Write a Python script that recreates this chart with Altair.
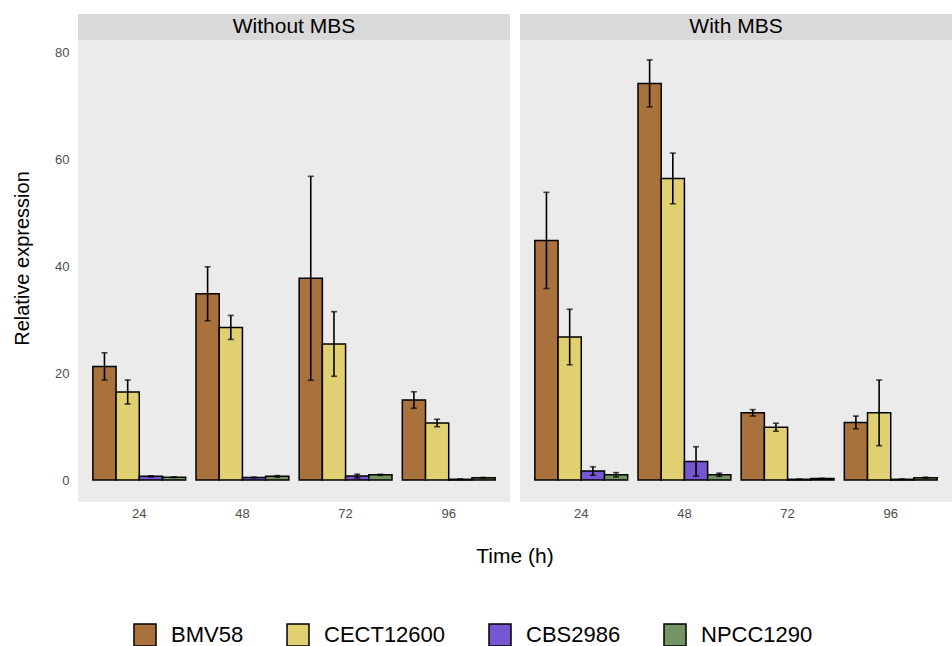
import altair as alt
import pandas as pd

times = ["24", "48", "72", "96"]
strains = ["BMV58", "CECT12600", "CBS2986", "NPCC1290"]
panels = ["Without MBS", "With MBS"]
colors = ["#A9713C", "#E1D071", "#7657D1", "#749463"]

without_mean = {
    "BMV58": [21.3, 34.9, 37.8, 15.0],
    "CECT12600": [16.5, 28.6, 25.5, 10.7],
    "CBS2986": [0.7, 0.5, 0.75, 0.15],
    "NPCC1290": [0.55, 0.7, 1.0, 0.45],
}
without_err = {
    "BMV58": [2.55, 5.05, 19.1, 1.55],
    "CECT12600": [2.25, 2.25, 6.05, 0.7],
    "CBS2986": [0.1, 0.05, 0.35, 0.05],
    "NPCC1290": [0.05, 0.15, 0.1, 0.05],
}
with_mean = {
    "BMV58": [44.9, 74.3, 12.6, 10.8],
    "CECT12600": [26.8, 56.5, 9.9, 12.6],
    "CBS2986": [1.7, 3.5, 0.15, 0.15],
    "NPCC1290": [1.0, 1.0, 0.3, 0.45],
}
with_err = {
    "BMV58": [9.0, 4.4, 0.6, 1.2],
    "CECT12600": [5.2, 4.75, 0.75, 6.15],
    "CBS2986": [0.8, 2.75, 0.05, 0.05],
    "NPCC1290": [0.4, 0.3, 0.05, 0.1],
}

rows = []
for panel, means, errs in [(panels[0], without_mean, without_err), (panels[1], with_mean, with_err)]:
    for s in strains:
        for i, t in enumerate(times):
            m = means[s][i]
            e = errs[s][i]
            rows.append({"panel": panel, "time": t, "strain": s, "mean": m,
                         "lo": max(m - e, 0), "hi": m + e})
df = pd.DataFrame(rows)

W = 432
H = 488
FONT = "Liberation Sans"

xenc = alt.X("time:N", sort=times, title=None,
             scale=alt.Scale(paddingInner=0.1, paddingOuter=0.144),
             axis=alt.Axis(labelAngle=0, ticks=False, domain=False, labelPadding=5,
                           labelFontSize=13, labelColor="#4D4D4D"))
yscale = alt.Scale(domain=[-4.1, 87.3], nice=False, zero=False)
xoff = alt.XOffset("strain:N", sort=strains, scale=alt.Scale(paddingInner=0, paddingOuter=0))

base = alt.Chart(df)
one = (alt.datum.time == "24") & (alt.datum.strain == "BMV58")

bg = base.transform_filter(one).mark_rect(color="#EBEBEB").encode(
    x=alt.value(0), x2=alt.value(W), y=alt.value(0), y2=alt.value(H)
)
strip = base.transform_filter(one).mark_rect(color="#D9D9D9").encode(
    x=alt.value(0), x2=alt.value(W), y=alt.value(0), y2=alt.value(26)
)
strip_text = base.transform_filter(one).mark_text(
    fontSize=21, font=FONT, color="black", baseline="middle", align="center"
).encode(x=alt.value(W / 2), y=alt.value(13), text="panel:N")

bars = base.mark_bar(stroke="black", strokeWidth=1.5).encode(
    x=xenc,
    xOffset=xoff,
    y=alt.Y("mean:Q", scale=yscale, title="Relative expression",
            axis=alt.Axis(values=[0, 20, 40, 60, 80], ticks=False, domain=False, grid=False,
                          labelFontSize=13, labelColor="#4D4D4D", labelPadding=9,
                          titleFontSize=20, titleColor="black", titlePadding=22,
                          titleFontWeight="normal")),
    color=alt.Color("strain:N", sort=strains,
                    scale=alt.Scale(domain=strains, range=colors),
                    legend=alt.Legend(orient="none", legendX=55, legendY=609,
                                      direction="horizontal", title=None,
                                      symbolType="square", symbolSize=484,
                                      symbolStrokeColor="black", symbolStrokeWidth=1.5,
                                      symbolOpacity=1,
                                      labelFontSize=22, labelFont=FONT, labelColor="black",
                                      columnPadding=40, labelOffset=14)),
)

rules = base.mark_rule(color="black", strokeWidth=1.6).encode(
    x=alt.X("time:N", sort=times), xOffset=xoff,
    y=alt.Y("lo:Q", scale=yscale), y2="hi:Q",
)
tick_lo = base.mark_tick(color="black", thickness=1.6, size=6).encode(
    x=alt.X("time:N", sort=times), xOffset=xoff, y=alt.Y("lo:Q", scale=yscale),
)
tick_hi = base.mark_tick(color="black", thickness=1.6, size=6).encode(
    x=alt.X("time:N", sort=times), xOffset=xoff, y=alt.Y("hi:Q", scale=yscale),
)

layer = alt.layer(bg, strip, strip_text, bars, rules, tick_lo, tick_hi).properties(width=W, height=H)

chart = layer.facet(
    column=alt.Column("panel:N", sort=panels, title="Time (h)",
                      header=alt.Header(labels=False, titleOrient="bottom",
                                        titleFontSize=21, titleFont=FONT,
                                        titleColor="black", titleFontWeight="normal",
                                        titlePadding=16)),
    spacing=10,
).properties(
    padding={"left": 12, "top": 14, "right": 0, "bottom": 0}
).configure_view(
    fill="#EBEBEB", stroke="transparent", strokeWidth=0
).configure(
    font=FONT,
    style={"cell": {"stroke": "transparent", "strokeWidth": 0}},
)

chart.save("out.html", embed_options={"renderer": "svg", "actions": False})
